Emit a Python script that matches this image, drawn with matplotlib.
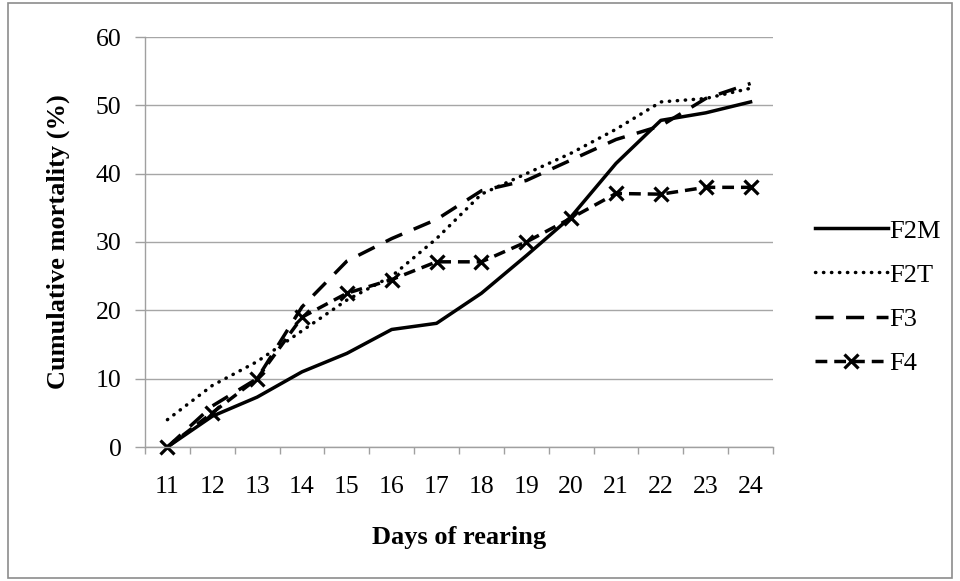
import matplotlib
matplotlib.use("Agg")
import matplotlib.pyplot as plt
from matplotlib.patches import Rectangle

days = [11, 12, 13, 14, 15, 16, 17, 18, 19, 20, 21, 22, 23, 24]
f2m = [0, 4.5, 7.3, 11, 13.7, 17.2, 18.1, 22.5, 28, 33.7, 41.5, 47.8, 48.9, 50.5]
f2t = [4, 9, 12.5, 17, 21.5, 25, 30.5, 37, 40, 43, 46.5, 50.5, 51, 52.5]
f3 = [0, 6, 10, 20.5, 27.2, 30.5, 33.3, 37.5, 39, 42, 45, 47, 51, 53.2]
f4 = [0, 5, 10, 19, 22.5, 24.5, 27.1, 27.1, 30, 33.5, 37.1, 37, 38, 38]
yticks = [0, 10, 20, 30, 40, 50, 60]

plt.rcParams['font.family'] = ['Liberation Serif', 'DejaVu Serif']

W, H = 960, 581
fig = plt.figure(figsize=(W/100, H/100), dpi=100)
ax = fig.add_axes([145/W, 1-447/H, (773-145)/W, (447-37)/H])

LW = 2.5
ax.plot(days, f2m, color='black', lw=LW, ls='-', label='F2M', solid_joinstyle='round')
ax.plot(days, f2t, color='black', lw=LW, ls=(0, (0.1, 2.2)), dash_capstyle='round', label='F2T')
ax.plot(days, f3, color='black', lw=LW, ls=(0, (5.2, 3.6)), label='F3')
ax.plot(days, f4, color='black', lw=LW, ls=(0, (3.4, 2.0)), marker='x', ms=9.5, mew=2.3,
        label='F4', clip_on=False)

ax.set_xlim(10.5, 24.5)
ax.set_ylim(0, 60)
ax.set_yticks(yticks)
ax.set_xticks(days)
ax.set_xticks([d + 0.5 for d in [10] + days], minor=True)
ax.tick_params(axis='x', which='major', length=0, pad=21, labelsize=18.5)
ax.tick_params(axis='x', which='minor', length=5, color='#a0a0a0', width=1)
ax.tick_params(axis='y', which='major', length=7, color='#a0a0a0', width=1, labelsize=18.5, pad=10)
ax.grid(axis='y', color='#a6a6a6', lw=1)
ax.set_axisbelow(True)
for s in ['top', 'right']:
    ax.spines[s].set_visible(False)
for s in ['left', 'bottom']:
    ax.spines[s].set_color('#a0a0a0')
    ax.spines[s].set_linewidth(1)

ax.set_xlabel('Days of rearing', fontsize=19, fontweight='bold', va='top')
ax.xaxis.set_label_coords(0.5, (447-526)/410)
ax.set_ylabel('Cumulative mortality (%)', fontsize=19, fontweight='bold')
ax.yaxis.set_label_coords((70-145)/628, 0.5)

leg = ax.legend(loc='center left', bbox_to_anchor=(815/W, 1-297/H), bbox_transform=fig.transFigure,
                frameon=False, fontsize=19, handlelength=2.75, handletextpad=0.08,
                labelspacing=0.78, borderpad=0, borderaxespad=0)

fig.patches.append(Rectangle((8/W, 3/H), (W-16)/W, (H-6)/H, transform=fig.transFigure,
                             fill=False, edgecolor='#8c8c8c', lw=1.2))

fig.savefig('out.png', dpi=100)
